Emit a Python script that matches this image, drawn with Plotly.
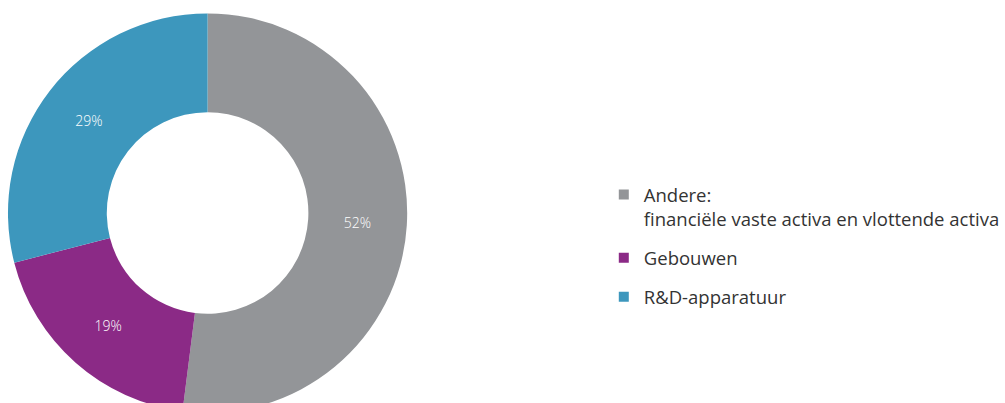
import plotly.graph_objects as go

# Verdeling van de activa
categories = ["Andere:<br>financiële vaste activa en vlottende activa", "Gebouwen", "R&D-apparatuur"]
shares = [52, 19, 29]
colors = ["#939598", "#8b2a86", "#3d97bd"]

FIG_W, FIG_H = 1005, 423

fig = go.Figure()

fig.add_trace(go.Pie(
    labels=categories,
    values=shares,
    sort=False,
    direction="clockwise",
    rotation=0,
    hole=0.505,
    marker=dict(colors=colors, line=dict(color="white", width=0)),
    texttemplate="%{value}%",
    textposition="inside",
    insidetextorientation="horizontal",
    textfont=dict(family="Open Sans", size=14, color="white", weight=300),
    domain=dict(x=[8 / FIG_W, 408 / FIG_W], y=[10 / FIG_H, 410 / FIG_H]),
    showlegend=False,
    hoverinfo="label+percent",
))

# Legend entries as separate groups so the gap between them can be set
for cat, col in zip(categories, colors):
    fig.add_trace(go.Scatter(
        x=[None], y=[None], mode="markers",
        marker=dict(symbol="square", size=10, color=col),
        name=cat, legendgroup=cat, showlegend=True, hoverinfo="skip",
    ))

fig.update_layout(
    width=FIG_W,
    height=FIG_H,
    margin=dict(l=0, r=0, t=0, b=0),
    paper_bgcolor="white",
    plot_bgcolor="white",
    xaxis=dict(visible=False),
    yaxis=dict(visible=False),
    font=dict(family="Open Sans", size=18.5, color="#333333"),
    legend=dict(
        x=605 / FIG_W, xanchor="left",
        y=1 - 176 / FIG_H, yanchor="top",
        valign="top",
        tracegroupgap=12,
        bgcolor="rgba(0,0,0,0)",
        font=dict(family="Open Sans", size=18.5, color="#333333"),
    ),
)

fig.write_html(
    "out.html",
    post_script="document.documentElement.style.overflow='hidden';document.body.style.overflow='hidden';",
)
